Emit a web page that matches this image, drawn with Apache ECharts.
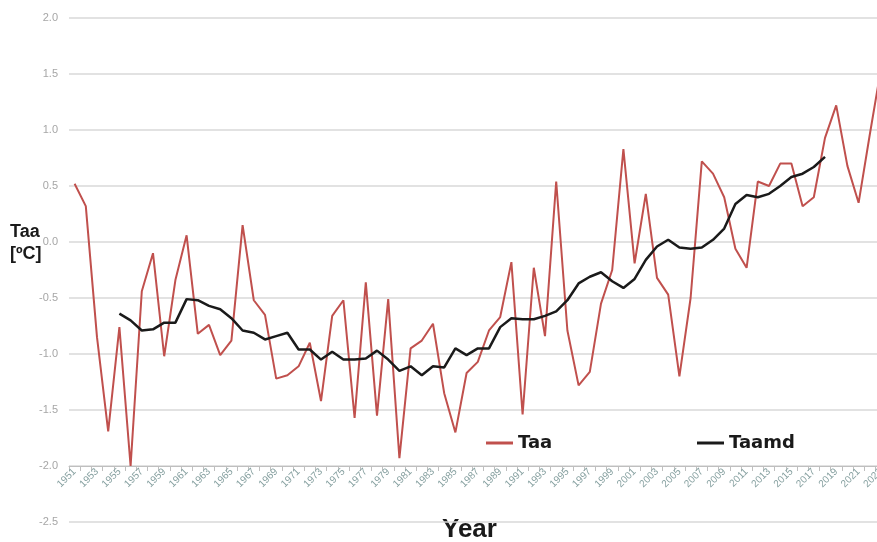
<!DOCTYPE html>
<html>
<head>
<meta charset="utf-8">
<script src="https://cdn.jsdelivr.net/npm/echarts@6/dist/echarts.min.js"></script>
<style>
html,body{margin:0;padding:0;background:#ffffff;}
#chart{width:877px;height:542px;}
</style>
</head>
<body>
<div id="chart"></div>
<script>
// Categories (years)
const years = ['1951','1952','1953','1954','1955','1956','1957','1958','1959','1960',
  '1961','1962','1963','1964','1965','1966','1967','1968','1969','1970',
  '1971','1972','1973','1974','1975','1976','1977','1978','1979','1980',
  '1981','1982','1983','1984','1985','1986','1987','1988','1989','1990',
  '1991','1992','1993','1994','1995','1996','1997','1998','1999','2000',
  '2001','2002','2003','2004','2005','2006','2007','2008','2009','2010',
  '2011','2012','2013','2014','2015','2016','2017','2018','2019','2020',
  '2021','2022','2023'];

// Annual temperature anomaly (Taa)
const taa = [0.52, 0.32, -0.85, -1.69, -0.76, -2.00, -0.44, -0.10, -1.02, -0.34,
  0.06, -0.82, -0.74, -1.01, -0.88, 0.15, -0.52, -0.65, -1.22, -1.19,
  -1.11, -0.90, -1.42, -0.66, -0.52, -1.57, -0.36, -1.55, -0.51, -1.93,
  -0.95, -0.88, -0.73, -1.35, -1.70, -1.17, -1.07, -0.79, -0.67, -0.18,
  -1.54, -0.23, -0.84, 0.54, -0.79, -1.28, -1.16, -0.55, -0.25, 0.83,
  -0.19, 0.43, -0.32, -0.47, -1.20, -0.50, 0.72, 0.61, 0.40, -0.06,
  -0.23, 0.54, 0.50, 0.70, 0.70, 0.32, 0.40, 0.93, 1.22, 0.68,
  0.35, 0.96, 1.55];

// Moving-average anomaly (Taamd), 1955–2018
const taamd = [null, null, null, null, -0.64, -0.70, -0.79, -0.78, -0.72, -0.72,
  -0.51, -0.52, -0.57, -0.60, -0.68, -0.79, -0.81, -0.87, -0.84, -0.81,
  -0.96, -0.96, -1.05, -0.98, -1.05, -1.05, -1.04, -0.97, -1.05, -1.15,
  -1.11, -1.19, -1.11, -1.12, -0.95, -1.01, -0.95, -0.95, -0.76, -0.68,
  -0.69, -0.69, -0.66, -0.62, -0.52, -0.37, -0.31, -0.27, -0.35, -0.41,
  -0.33, -0.16, -0.04, 0.02, -0.05, -0.06, -0.05, 0.02, 0.12, 0.34,
  0.42, 0.40, 0.43, 0.50, 0.58, 0.61, 0.67, 0.76, null, null,
  null, null, null];

const chart = echarts.init(document.getElementById('chart'), null, {renderer: 'canvas'});

const legendText = {fontFamily: 'DejaVu Sans', fontWeight: 'bold', fontSize: 18, color: '#1a1a1a'};

chart.setOption({
  animation: false,
  backgroundColor: '#ffffff',
  grid: {left: 69, top: 18, width: 817.6, height: 504, containLabel: false, outerBoundsMode: 'none'},
  legend: [
    {data: ['Taa'], left: 481, top: 429, icon: 'rect', itemWidth: 27, itemHeight: 3, textStyle: legendText},
    {data: ['Taamd'], left: 692, top: 429, icon: 'rect', itemWidth: 27, itemHeight: 3, textStyle: legendText}
  ],
  xAxis: {
    type: 'category',
    data: years,
    boundaryGap: true,
    offset: -56,
    axisLine: {show: true, onZero: false, lineStyle: {color: '#bfbfbf', width: 1}},
    axisTick: {show: true, interval: 0, length: 5, lineStyle: {color: '#bfbfbf'}},
    axisLabel: {interval: 1, rotate: 45, fontSize: 10, fontFamily: 'Liberation Sans', color: '#86a0a0', margin: 4},
    splitLine: {show: false}
  },
  yAxis: {
    type: 'value',
    min: -2.5,
    max: 2.0,
    interval: 0.5,
    axisLine: {show: false},
    axisTick: {show: false},
    axisLabel: {fontSize: 11, fontFamily: 'Liberation Sans', color: '#a6a6a6', margin: 11,
      formatter: function (v) { return v.toFixed(1); }},
    splitLine: {show: true, lineStyle: {color: '#d9d9d9', width: 1.5}}
  },
  series: [
    {name: 'Taa', type: 'line', data: taa, symbol: 'none', color: '#c0504d',
      lineStyle: {color: '#c0504d', width: 2}},
    {name: 'Taamd', type: 'line', data: taamd, symbol: 'none', color: '#1a1a1a',
      lineStyle: {color: '#1a1a1a', width: 2.5}}
  ],
  graphic: [
    {type: 'text', left: 10, top: 223, style: {text: 'Taa', font: 'bold 18px "Liberation Sans Narrow", "Liberation Sans", sans-serif', fill: '#1a1a1a'}},
    {type: 'text', left: 10, top: 245, style: {text: '[ºC]', font: 'bold 18px "Liberation Sans Narrow", "Liberation Sans", sans-serif', fill: '#1a1a1a'}},
    {type: 'text', left: 442, top: 517, style: {text: 'Year', font: 'bold 26px "Liberation Sans", sans-serif', fill: '#1a1a1a'}}
  ]
});
</script>
</body>
</html>
